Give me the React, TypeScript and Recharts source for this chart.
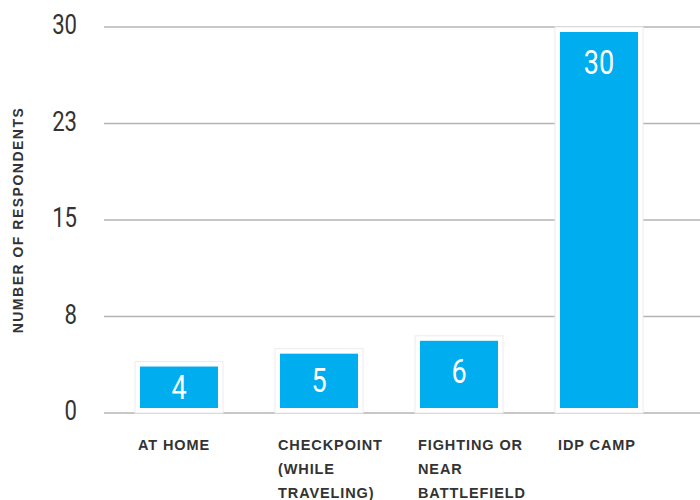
import { BarChart, Bar, XAxis, YAxis, CartesianGrid, LabelList } from "recharts";

const categories = ["AT HOME", "CHECKPOINT (WHILE TRAVELING)", "FIGHTING OR NEAR BATTLEFIELD", "IDP CAMP"];
const categoryLines = [["AT HOME"], ["CHECKPOINT", "(WHILE", "TRAVELING)"], ["FIGHTING OR", "NEAR", "BATTLEFIELD"], ["IDP CAMP"]];
const respondents = [4, 5, 6, 30];
const yTicks = [0, 7.5, 15, 22.5, 30];

const data = categories.map((name, i) => ({
  name,
  value: respondents[i],
}));

const BLUE = "#00ADEF";
const GRID = "#b4b4b4";
const CONDENSED = "Roboto, sans-serif";
const SANS = '"Liberation Sans", Arial, Helvetica, sans-serif';

function FramedBar(props: any) {
  const { x, y, width, height } = props;
  const inset = 5;
  return (
    <g>
      <rect x={x} y={y} width={width} height={height} fill="#fff" stroke="#ececec" strokeWidth={1} />
      <rect
        x={x + inset}
        y={y + inset}
        width={width - inset * 2}
        height={Math.max(0, height - inset * 2)}
        fill={BLUE}
      />
    </g>
  );
}

// narrow text: squeeze horizontally around the anchor point
function NarrowText({ x, y, anchor, size, fill, children }: any) {
  return (
    <text
      transform={`translate(${x},${y}) scale(0.82,1)`}
      textAnchor={anchor}
      dominantBaseline="central"
      fill={fill}
      fontSize={size}
      fontFamily={CONDENSED}
    >
      {children}
    </text>
  );
}

function ValueLabel(props: any) {
  const { x, y, width, height, value } = props;
  const cy = y + 5 + Math.min(31, (height - 10) / 2);
  return (
    <NarrowText x={x + width / 2} y={cy} anchor="middle" size={33} fill="#fff">
      {value}
    </NarrowText>
  );
}

function ValueTick(props: any) {
  const { y, payload } = props;
  return (
    <NarrowText x={77} y={y - 2} anchor="end" size={27} fill="#333">
      {Math.round(payload.value)}
    </NarrowText>
  );
}

function CategoryTick(props: any) {
  const { x, y, payload } = props;
  const lines = categoryLines[payload.index] ?? [payload.value];
  return (
    <g>
      {lines.map((line, i) => (
        <text
          key={i}
          x={x - 41}
          y={y + 29 + i * 24}
          fill="#333"
          fontSize={14.5}
          fontWeight="bold"
          fontFamily={SANS}
          letterSpacing={0.9}
        >
          {line}
        </text>
      ))}
    </g>
  );
}

export default function App() {
  return (
    <div style={{ position: "absolute", left: 0, top: 0, width: 700, height: 500, background: "#fff" }}>
      <BarChart
        width={700}
        height={500}
        data={data}
        margin={{ top: 27, right: 0, left: 0, bottom: 0 }}
        barSize={88}
      >
        <CartesianGrid vertical={false} stroke={GRID} strokeWidth={1.5} />
        <XAxis
          dataKey="name"
          height={87}
          axisLine={false}
          tickLine={false}
          interval={0}
          padding={{ left: 5, right: 31 }}
          tick={<CategoryTick />}
        />
        <YAxis
          width={104}
          domain={[0, 30]}
          ticks={yTicks}
          axisLine={false}
          tickLine={false}
          tick={<ValueTick />}
          label={{
            value: "NUMBER OF RESPONDENTS",
            angle: -90,
            position: "insideLeft",
            offset: 0,
            dx: 18,
            style: {
              fill: "#333",
              fontSize: 14,
              fontWeight: "bold",
              fontFamily: SANS,
              letterSpacing: 1.5,
              textAnchor: "middle",
            },
          }}
        />
        <Bar dataKey="value" shape={<FramedBar />} isAnimationActive={false}>
          <LabelList dataKey="value" content={<ValueLabel />} />
        </Bar>
      </BarChart>
    </div>
  );
}
